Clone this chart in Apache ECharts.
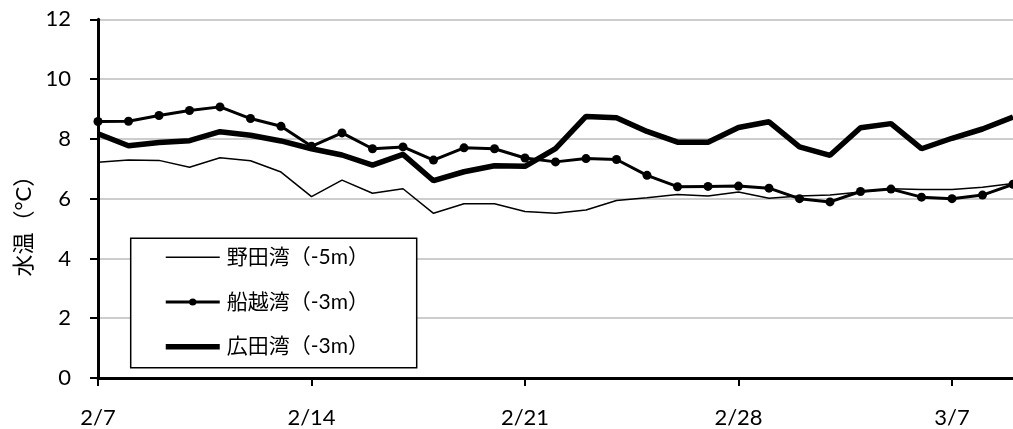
<!DOCTYPE html>
<html>
<head>
<meta charset="utf-8">
<script src="https://cdn.jsdelivr.net/npm/echarts@6/dist/echarts.min.js"></script>
<style>
html,body{margin:0;padding:0;background:#fff;}
#c{width:1013px;height:429px;}
</style>
</head>
<body>
<div id="c"></div>
<script>
var dates = ['2/7','2/8','2/9','2/10','2/11','2/12','2/13','2/14','2/15','2/16','2/17','2/18','2/19','2/20','2/21','2/22','2/23','2/24','2/25','2/26','2/27','2/28','3/1','3/2','3/3','3/4','3/5','3/6','3/7','3/8','3/9'];
var noda = [7.22,7.29,7.28,7.05,7.37,7.27,6.89,6.07,6.62,6.18,6.33,5.51,5.83,5.83,5.57,5.51,5.62,5.94,6.03,6.14,6.09,6.22,6.01,6.09,6.12,6.22,6.33,6.31,6.31,6.38,6.51];
var funakoshi = [8.58,8.59,8.78,8.95,9.07,8.68,8.42,7.75,8.2,7.67,7.73,7.29,7.7,7.67,7.36,7.23,7.34,7.31,6.78,6.4,6.41,6.42,6.35,6.0,5.89,6.24,6.32,6.05,6.0,6.12,6.48];
var hirota = [8.17,7.77,7.88,7.94,8.24,8.12,7.93,7.67,7.46,7.12,7.48,6.6,6.9,7.1,7.08,7.67,8.75,8.71,8.25,7.89,7.89,8.38,8.57,7.73,7.45,8.37,8.51,7.67,8.02,8.33,8.73];
var seriesNames = ['野田湾（-5m）','船越湾（-3m）','広田湾（-3m）'];
var yName = '水温（°C）';

var FONT = "Lato, 'Noto Sans CJK JP', sans-serif";
var widths = [1.5, 3, 5.5];
var chart = echarts.init(document.getElementById('c'), null, {renderer:'canvas'});
chart.setOption({
  animation: false,
  backgroundColor: '#fff',
  grid: {left: 98, top: 19.3, bottom: 49.7, right: -5.3, containLabel: false},
  xAxis: {
    type: 'category',
    data: dates,
    boundaryGap: false,
    axisLine: {show: true, onZero: false, lineStyle: {color: '#000', width: 3}},
    axisTick: {show: true, interval: 6, length: 8, lineStyle: {color: '#000', width: 2}},
    axisLabel: {interval: 6, color: '#000', fontSize: 22, fontFamily: FONT, margin: 29},
    splitLine: {show: false}
  },
  yAxis: {
    type: 'value',
    min: 0, max: 12, interval: 2,
    name: yName,
    nameLocation: 'middle',
    nameRotate: 90,
    nameGap: 62,
    nameTextStyle: {color: '#000', fontSize: 22, fontFamily: FONT, padding: [0, 44, 0, 0]},
    axisLine: {show: true, lineStyle: {color: '#000', width: 3}},
    axisTick: {show: true, length: 8, lineStyle: {color: '#000', width: 2}},
    axisLabel: {color: '#000', fontSize: 22, fontFamily: FONT, margin: 27},
    splitLine: {show: true, lineStyle: {color: '#bdbdbd', width: 1.5}}
  },
  graphic: [{
    type: 'rect', z: 3,
    shape: {x: 130.7, y: 238.3, width: 286, height: 129.4},
    style: {fill: '#fff', stroke: '#000', lineWidth: 1.5}
  }],
  legend: {
    z: 5,
    orient: 'vertical',
    left: 163, top: 246.3,
    padding: 0,
    itemWidth: 54, itemHeight: 9, itemGap: 22.7,
    textStyle: {color: '#000', fontSize: 21, lineHeight: 22, fontFamily: FONT, padding: [0,0,0,2]},
    data: seriesNames.map(function (n, i) {
      return {
        name: n,
        lineStyle: {width: widths[i], color: '#000'},
        itemStyle: i === 1 ? {color: '#000'} : {color: '#000', opacity: 0}
      };
    })
  },
  series: [
    {name: seriesNames[0], type: 'line', data: noda, symbol: 'none',
     lineStyle: {color: '#000', width: widths[0]}, itemStyle: {color: '#000'}},
    {name: seriesNames[1], type: 'line', data: funakoshi, symbol: 'circle', symbolSize: 9,
     lineStyle: {color: '#000', width: widths[1]}, itemStyle: {color: '#000'}},
    {name: seriesNames[2], type: 'line', data: hirota, symbol: 'none',
     lineStyle: {color: '#000', width: widths[2]}, itemStyle: {color: '#000'}}
  ]
});
</script>
</body>
</html>
